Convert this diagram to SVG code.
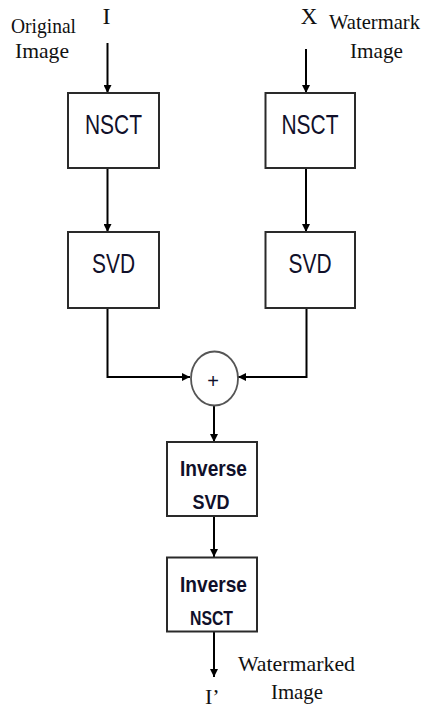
<svg xmlns="http://www.w3.org/2000/svg" width="425" height="708" viewBox="0 0 425 708">
<style>
.box{fill:#fff;stroke:#2a2a2a;stroke-width:2}
.ln{fill:none;stroke:#000;stroke-width:2}
.serif{font-family:"Liberation Serif","Times New Roman",serif;fill:#111}
.sans{font-family:"Liberation Sans",Arial,sans-serif;fill:#10102a;text-anchor:middle}
.bold{font-weight:bold}
</style>
<defs>
<marker id="ah" markerWidth="8" markerHeight="8" refX="8" refY="4" orient="auto" markerUnits="userSpaceOnUse">
<path d="M0,0 L8,4 L0,8 Z" fill="#000"/>
</marker>
</defs>
<rect width="425" height="708" fill="#fff"/>
<g id="labels">
<text class="serif" x="106.5" y="24" font-size="24" text-anchor="middle">I</text>
<text class="serif" x="309" y="24" font-size="23" text-anchor="middle">X</text>
<text class="serif" x="11" y="33" font-size="22" textLength="65" lengthAdjust="spacingAndGlyphs">Original</text>
<text class="serif" x="15" y="58" font-size="22" textLength="54" lengthAdjust="spacingAndGlyphs">Image</text>
<text class="serif" x="329" y="29" font-size="22" textLength="91" lengthAdjust="spacingAndGlyphs">Watermark</text>
<text class="serif" x="350" y="58" font-size="22" textLength="53" lengthAdjust="spacingAndGlyphs">Image</text>
<text class="serif" x="238" y="671" font-size="22" textLength="117" lengthAdjust="spacingAndGlyphs">Watermarked</text>
<text class="serif" x="271" y="699" font-size="22" textLength="52" lengthAdjust="spacingAndGlyphs">Image</text>
<text class="serif" x="205" y="704" font-size="22">I’</text>
</g>
<g id="connectors">
<line class="ln" x1="107.5" y1="43" x2="107.5" y2="93" marker-end="url(#ah)"/>
<line class="ln" x1="306" y1="49" x2="306" y2="93" marker-end="url(#ah)"/>
<line class="ln" x1="107.5" y1="168" x2="107.5" y2="232" marker-end="url(#ah)"/>
<line class="ln" x1="306" y1="168" x2="306" y2="232" marker-end="url(#ah)"/>
<polyline class="ln" points="107.5,308 107.5,377 190,377" marker-end="url(#ah)"/>
<polyline class="ln" points="306.5,308 306.5,377 238,377" marker-end="url(#ah)"/>
<line class="ln" x1="214" y1="406" x2="214" y2="442" marker-end="url(#ah)"/>
<line class="ln" x1="214" y1="516" x2="214" y2="557" marker-end="url(#ah)"/>
<line class="ln" x1="214" y1="632" x2="214" y2="677" marker-end="url(#ah)"/>
</g>
<g id="nsct1">
<rect class="box" x="68" y="93" width="91" height="75"/>
<text class="sans" x="113.5" y="134" font-size="28" textLength="57" lengthAdjust="spacingAndGlyphs">NSCT</text>
</g>
<g id="nsct2">
<rect class="box" x="265.5" y="93" width="89.5" height="75"/>
<text class="sans" x="310" y="134" font-size="28" textLength="57" lengthAdjust="spacingAndGlyphs">NSCT</text>
</g>
<g id="svd1">
<rect class="box" x="68" y="232" width="91" height="76"/>
<text class="sans" x="113.5" y="273" font-size="28" textLength="43" lengthAdjust="spacingAndGlyphs">SVD</text>
</g>
<g id="svd2">
<rect class="box" x="265.5" y="232" width="89.5" height="76"/>
<text class="sans" x="310" y="273" font-size="28" textLength="43" lengthAdjust="spacingAndGlyphs">SVD</text>
</g>
<g id="sum">
<ellipse cx="214.5" cy="378.5" rx="23.5" ry="27" fill="#fff" stroke="#555" stroke-width="1.8"/>
<text class="sans" x="213" y="388" font-size="20" fill="#000">+</text>
</g>
<g id="isvd">
<rect class="box" x="167" y="442" width="90" height="74"/>
<text class="sans bold" x="213.5" y="476" font-size="22" textLength="67" lengthAdjust="spacingAndGlyphs">Inverse</text>
<text class="sans bold" x="211" y="509" font-size="21" textLength="37" lengthAdjust="spacingAndGlyphs">SVD</text>
</g>
<g id="insct">
<rect class="box" x="167" y="557.5" width="90" height="74"/>
<text class="sans bold" x="213.5" y="591.5" font-size="22" textLength="67" lengthAdjust="spacingAndGlyphs">Inverse</text>
<text class="sans bold" x="211.5" y="625" font-size="21" textLength="43" lengthAdjust="spacingAndGlyphs">NSCT</text>
</g>
</svg>
